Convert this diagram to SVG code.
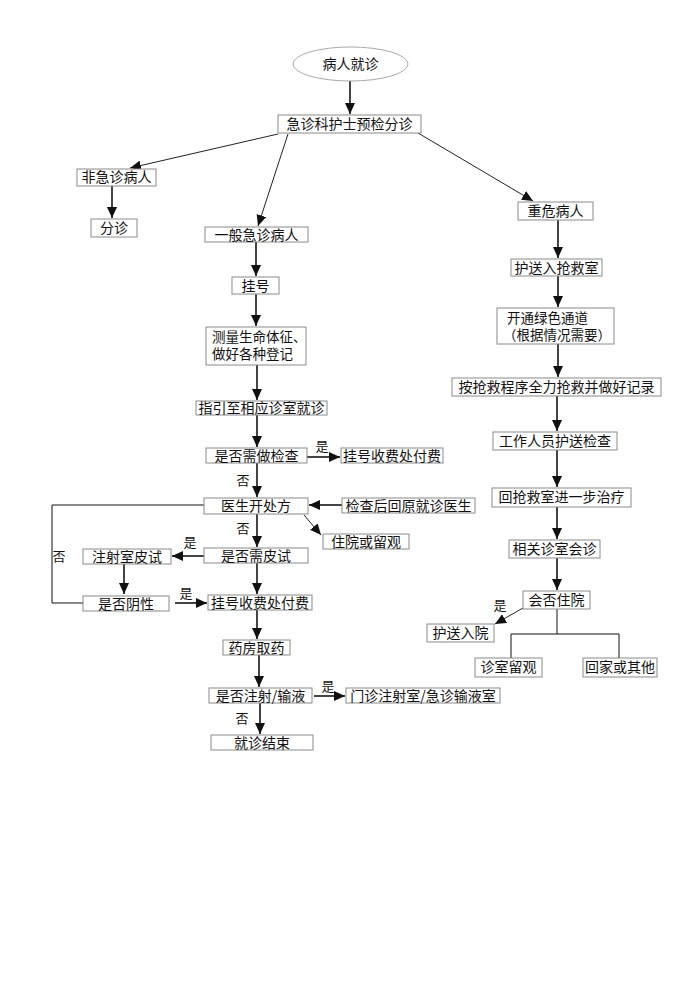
<svg xmlns="http://www.w3.org/2000/svg" width="700" height="1000" viewBox="0 0 700 1000">
<style>
text{font-family:"Noto Sans CJK SC","Liberation Sans",sans-serif;font-size:14px;fill:#111;text-anchor:middle}
.lb{font-size:13px}
.two{font-size:13.5px;text-anchor:start}
.bx{fill:#fff;stroke:#8a8a8a;stroke-width:1}
.a{stroke:#444;stroke-width:2;fill:none;marker-end:url(#ah)}
.t{stroke:#222;stroke-width:1;fill:none;marker-end:url(#ah)}
.p{stroke:#111;stroke-width:1;fill:none}
</style>
<defs>
<marker id="ah" markerUnits="userSpaceOnUse" markerWidth="12" markerHeight="10" refX="11" refY="5" orient="auto">
<path d="M0,0 L11,5 L0,10 Z" fill="#111"/>
</marker>
</defs>
<rect width="700" height="1000" fill="#fff"/>
<g id="connectors">
<line class="a" x1="350" y1="81" x2="350" y2="114"/>
<line class="t" x1="278" y1="134" x2="130" y2="168"/>
<line class="t" x1="288" y1="134" x2="258" y2="226"/>
<line class="t" x1="418" y1="133" x2="533" y2="201"/>
<line class="a" x1="112" y1="186" x2="112" y2="218"/>
<line class="a" x1="256" y1="242" x2="256" y2="276"/>
<line class="a" x1="256" y1="294" x2="256" y2="326"/>
<line class="a" x1="257" y1="365" x2="257" y2="400"/>
<line class="a" x1="257" y1="415" x2="257" y2="447"/>
<line class="a" x1="307" y1="457" x2="340" y2="457"/>
<line class="a" x1="257" y1="463" x2="257" y2="497"/>
<line class="a" x1="342" y1="505" x2="309" y2="505"/>
<line class="t" x1="304" y1="515" x2="321" y2="535"/>
<line class="a" x1="257" y1="514" x2="257" y2="547"/>
<line class="a" x1="204" y1="556" x2="172" y2="556"/>
<line class="a" x1="124" y1="564" x2="124" y2="594"/>
<line class="a" x1="175" y1="603" x2="207" y2="603"/>
<polyline class="p" points="204,505 52,505 52,603 83,603"/>
<line class="a" x1="257" y1="563" x2="257" y2="594"/>
<line class="a" x1="257" y1="610" x2="257" y2="639"/>
<line class="a" x1="259" y1="655" x2="259" y2="687"/>
<line class="a" x1="314" y1="696" x2="345" y2="696"/>
<line class="a" x1="260" y1="703" x2="260" y2="734"/>
<line class="a" x1="558" y1="220" x2="558" y2="258"/>
<line class="a" x1="558" y1="276" x2="558" y2="307"/>
<line class="a" x1="558" y1="344" x2="558" y2="377"/>
<line class="a" x1="557" y1="396" x2="557" y2="431"/>
<line class="a" x1="557" y1="450" x2="557" y2="487"/>
<line class="a" x1="557" y1="507" x2="557" y2="539"/>
<line class="a" x1="557" y1="558" x2="557" y2="590"/>
<line class="t" x1="523" y1="608" x2="495" y2="624"/>
<polyline class="p" points="557,609 557,634"/>
<polyline class="p" points="511,658 511,634 619,634 619,658"/>
</g>
<g id="labels">
<text class="lb" x="322" y="451">是</text>
<text class="lb" x="243" y="485">否</text>
<text class="lb" x="243" y="533">否</text>
<text class="lb" x="190" y="547">是</text>
<text class="lb" x="59" y="561">否</text>
<text class="lb" x="186" y="598">是</text>
<text class="lb" x="328" y="691">是</text>
<text class="lb" x="242" y="723">否</text>
<text class="lb" x="500" y="610">是</text>
</g>
<g id="n-start"><ellipse cx="350.5" cy="64" rx="57.5" ry="17" fill="#fff" stroke="#aaa"/><text x="350.5" y="69">病人就诊</text></g>
<g id="n-triage"><rect class="bx" x="278" y="115" width="143" height="18"/><text x="349.5" y="129">急诊科护士预检分诊</text></g>
<g id="n-nonurgent"><rect class="bx" x="77" y="169" width="79" height="17"/><text x="116.5" y="182">非急诊病人</text></g>
<g id="n-fenzhen"><rect class="bx" x="91" y="219" width="46" height="18"/><text x="114" y="233">分诊</text></g>
<g id="n-general"><rect class="bx" x="205" y="227" width="103" height="15"/><text x="256.5" y="240">一般急诊病人</text></g>
<g id="n-guahao"><rect class="bx" x="232" y="277" width="47" height="17"/><text x="255.5" y="291">挂号</text></g>
<g id="n-measure"><rect class="bx" x="206" y="327" width="100" height="38"/><text class="two"><tspan x="212" y="342">测量生命体征、</tspan><tspan x="212" y="359">做好各种登记</tspan></text></g>
<g id="n-guide"><rect class="bx" x="196" y="401" width="131" height="14"/><text x="261.5" y="413">指引至相应诊室就诊</text></g>
<g id="n-needexam"><rect class="bx" x="206" y="448" width="101" height="15"/><text x="256.5" y="461">是否需做检查</text></g>
<g id="n-pay1"><rect class="bx" x="341" y="448" width="102" height="15"/><text x="392" y="461">挂号收费处付费</text></g>
<g id="n-doctor"><rect class="bx" x="204" y="498" width="104" height="16"/><text x="256" y="511">医生开处方</text></g>
<g id="n-back"><rect class="bx" x="342" y="498" width="133" height="15"/><text x="408.5" y="511">检查后回原就诊医生</text></g>
<g id="n-hospital"><rect class="bx" x="323" y="534" width="86" height="15"/><text x="366" y="547">住院或留观</text></g>
<g id="n-skintest"><rect class="bx" x="204" y="548" width="104" height="15"/><text x="256" y="561">是否需皮试</text></g>
<g id="n-injroom"><rect class="bx" x="83" y="549" width="88" height="15"/><text x="127" y="562">注射室皮试</text></g>
<g id="n-negative"><rect class="bx" x="83" y="596" width="86" height="15"/><text x="126" y="609">是否阴性</text></g>
<g id="n-pay2"><rect class="bx" x="208" y="595" width="104" height="15"/><text x="260" y="608">挂号收费处付费</text></g>
<g id="n-pharmacy"><rect class="bx" x="223" y="640" width="67" height="15"/><text x="256.5" y="653">药房取药</text></g>
<g id="n-inject"><rect class="bx" x="209" y="688" width="103" height="15"/><text x="260.5" y="701">是否注射/输液</text></g>
<g id="n-injroom2"><rect class="bx" x="346" y="688" width="154" height="15"/><text x="423" y="701">门诊注射室/急诊输液室</text></g>
<g id="n-end"><rect class="bx" x="211" y="735" width="102" height="15"/><text x="262" y="748">就诊结束</text></g>
<g id="n-critical"><rect class="bx" x="518" y="202" width="75" height="18"/><text x="555.5" y="216">重危病人</text></g>
<g id="n-rescue"><rect class="bx" x="511" y="259" width="91" height="17"/><text x="556.5" y="273">护送入抢救室</text></g>
<g id="n-green"><rect class="bx" x="497" y="308" width="117" height="36"/><text class="two"><tspan x="507" y="323">开通绿色通道</tspan><tspan x="503" y="340">（根据情况需要）</tspan></text></g>
<g id="n-procedure"><rect class="bx" x="452" y="378" width="209" height="18"/><text x="556.5" y="392">按抢救程序全力抢救并做好记录</text></g>
<g id="n-staff"><rect class="bx" x="493" y="432" width="124" height="18"/><text x="555" y="446">工作人员护送检查</text></g>
<g id="n-return"><rect class="bx" x="492" y="488" width="139" height="19"/><text x="561.5" y="502">回抢救室进一步治疗</text></g>
<g id="n-consult"><rect class="bx" x="509" y="540" width="91" height="18"/><text x="554.5" y="554">相关诊室会诊</text></g>
<g id="n-admit"><rect class="bx" x="523" y="591" width="67" height="18"/><text x="556.5" y="605">会否住院</text></g>
<g id="n-escort"><rect class="bx" x="427" y="624" width="67" height="18"/><text x="460.5" y="638">护送入院</text></g>
<g id="n-observe"><rect class="bx" x="475" y="658" width="67" height="19"/><text x="508.5" y="672">诊室留观</text></g>
<g id="n-home"><rect class="bx" x="583" y="658" width="74" height="19"/><text x="620" y="672">回家或其他</text></g>
</svg>
